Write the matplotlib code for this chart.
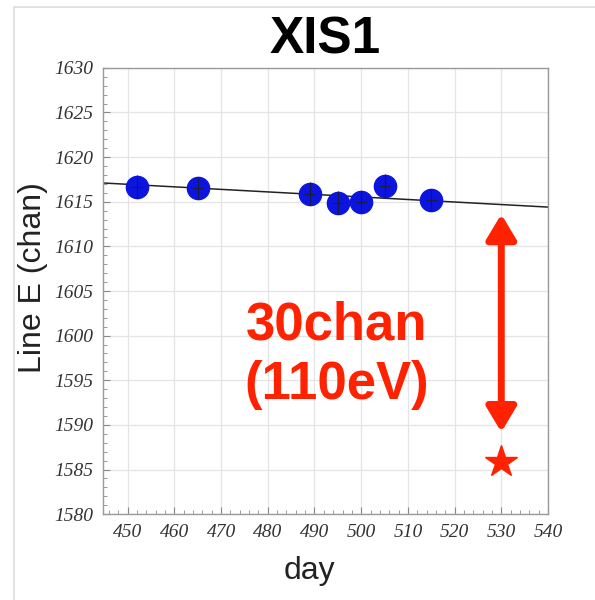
import matplotlib.pyplot as plt
from matplotlib.patches import Rectangle
from matplotlib.ticker import MultipleLocator

# XIS1 line-energy trend and the offset point
days = [452, 465, 489, 495, 500, 505, 515]
line_e = [1616.7, 1616.5, 1615.9, 1614.9, 1615.0, 1616.8, 1615.2]
e_err = [1.3, 1.2, 1.3, 1.3, 1.2, 1.3, 1.2]
d_err = [1.2, 1.2, 1.2, 1.2, 1.2, 1.2, 1.2]

fit_days = [444.7, 540]
fit_e = [1617.1, 1614.4]

star_day = 530
star_e = 1585.9
arrow_top = 1613.6
arrow_bottom = 1589.2

x_ticks = [450, 460, 470, 480, 490, 500, 510, 520, 530, 540]
y_ticks = [1580, 1585, 1590, 1595, 1600, 1605, 1610, 1615, 1620, 1625, 1630]

RED = "#ff2200"
BLUE = "#0c14e0"

fig = plt.figure(figsize=(5.95, 6.0), dpi=100)
fig.patches.append(Rectangle((0.024, -0.01), 1.0, 0.998, transform=fig.transFigure,
                             fill=False, edgecolor="#dcdcdc", lw=1.2))
ax = fig.add_axes([0.173, 0.143, 0.748, 0.744])

ax.set_xlim(444.7, 540)
ax.set_ylim(1580, 1630)
ax.set_xticks(x_ticks)
ax.set_yticks(y_ticks)
ax.xaxis.set_minor_locator(MultipleLocator(2))
ax.yaxis.set_minor_locator(MultipleLocator(1))
ax.grid(True, which="major", color="#e4e4e4", lw=0.9)
ax.set_axisbelow(True)
ax.tick_params(which="both", direction="in", colors="#888888", top=False, right=False)
ax.tick_params(which="major", length=5, labelsize=14, labelcolor="#333333", pad=7)
ax.tick_params(which="minor", length=3)
for lab in ax.get_xticklabels() + ax.get_yticklabels():
    lab.set_family("Liberation Serif")
    lab.set_style("italic")
for sp in ax.spines.values():
    sp.set_color("#9a9a9a")
    sp.set_linewidth(1.0)

ax.plot(fit_days, fit_e, color="#222222", lw=1.1, zorder=2)
ax.plot(days, line_e, "o", ms=16, color=BLUE, zorder=3)
ax.errorbar(days, line_e, yerr=e_err, xerr=d_err, fmt="none",
            ecolor="#1a1a40", elinewidth=0.8, zorder=4)

ax.plot([star_day], [star_e], marker="*", ms=24, color=RED, mec=RED, zorder=3)
ax.annotate("", xy=(star_day, arrow_bottom), xytext=(star_day, arrow_top),
            arrowprops=dict(arrowstyle="<|-|>,head_length=1.5,head_width=0.9",
                            color=RED, lw=5, shrinkA=0, shrinkB=0), zorder=3)

ax.text(494.8, 1597.8, "30chan\n(110eV)", color=RED, fontsize=38, fontweight="bold",
        family="Liberation Sans", ha="center", va="center", linespacing=1.22)

ax.set_title("XIS1", fontsize=37, fontweight="bold", family="Liberation Sans", pad=10)
ax.set_xlabel("day", fontsize=23, family="Liberation Sans", color="#222222")
ax.set_ylabel("Line E (chan)", fontsize=23, family="Liberation Sans", color="#222222")
ax.xaxis.set_label_coords(0.463, -0.094)
ax.yaxis.set_label_coords(-0.124, 0.529)

fig.savefig("out.png", dpi=100)
